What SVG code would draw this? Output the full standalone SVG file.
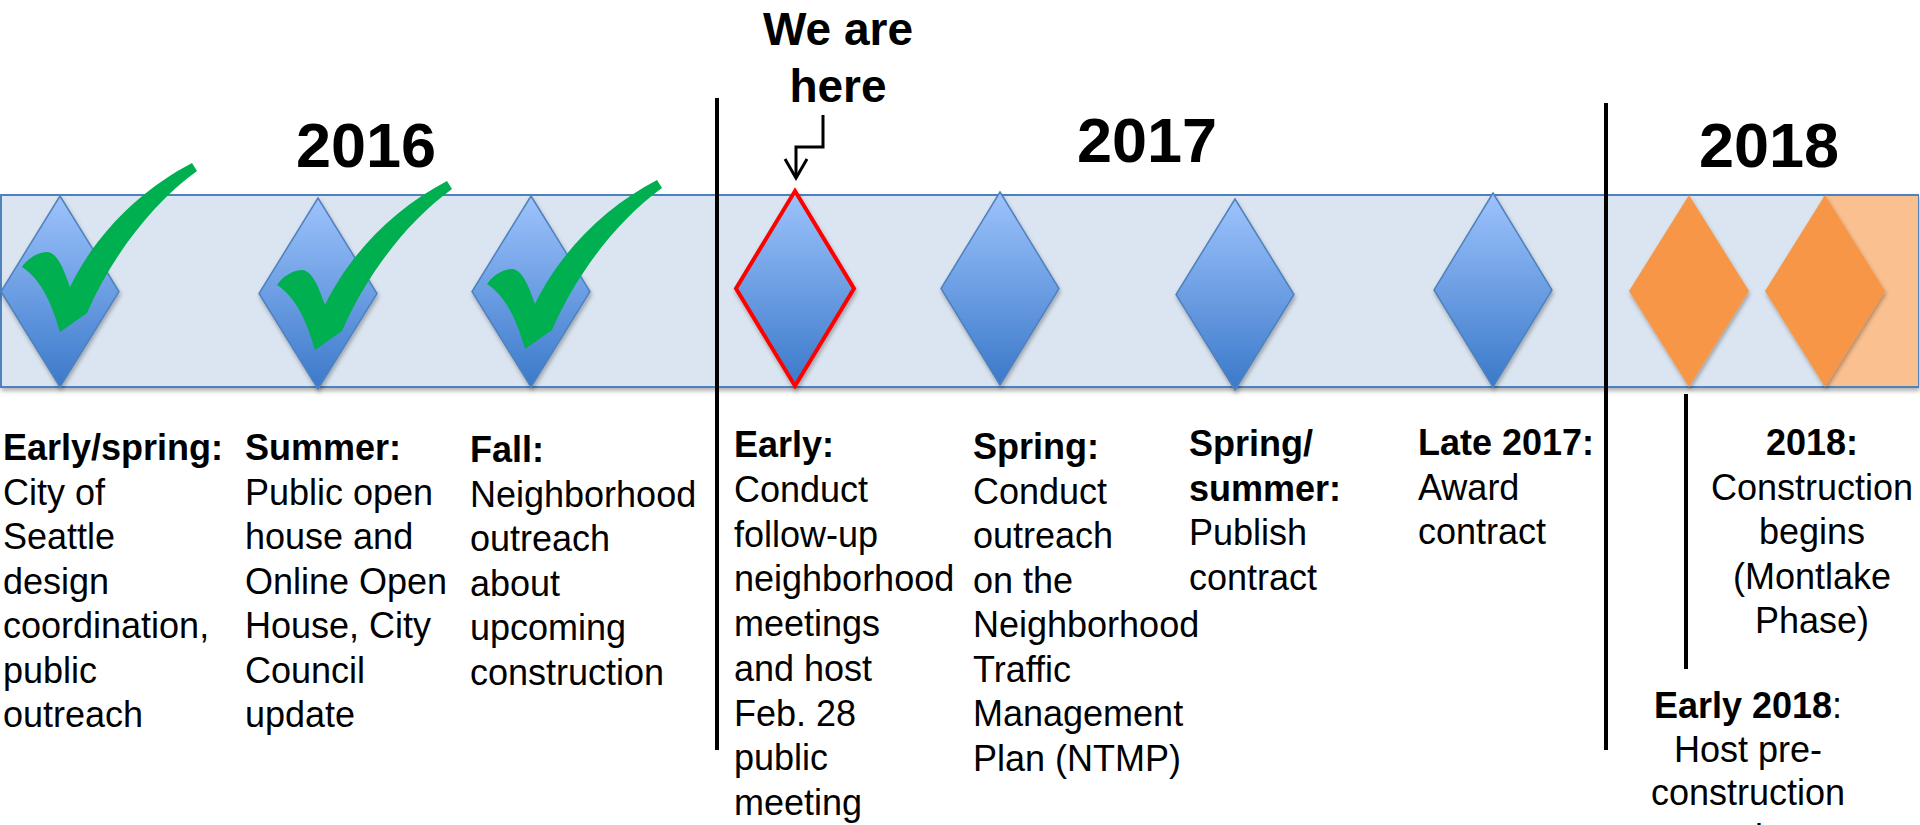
<svg xmlns="http://www.w3.org/2000/svg" width="1920" height="825" viewBox="0 0 1920 825">
<defs>
<linearGradient id="blueGrad" x1="0" y1="0" x2="0" y2="1">
<stop offset="0" stop-color="#9DC3FC"/>
<stop offset="1" stop-color="#3B79CA"/>
</linearGradient>
<filter id="shadow" x="-10%" y="-10%" width="130%" height="130%">
<feDropShadow dx="1" dy="3" stdDeviation="2" flood-color="#000" flood-opacity="0.3"/>
</filter>
<path id="check" d="M 22 267 C 28 258, 38 252, 48 252 C 58 254, 64 270, 70 287 C 95 235, 140 190, 192 163 L 197 171 C 150 205, 110 260, 87 313 L 60 332 C 52 305, 42 280, 22 267 Z"/>
<marker id="openArrow" markerWidth="24" markerHeight="26" refX="20" refY="12" orient="auto" markerUnits="userSpaceOnUse" viewBox="0 0 24 26">
<path d="M 1 1 L 20 12 L 1 23" fill="none" stroke="#000" stroke-width="3"/>
</marker>
</defs>
<style>
.band{fill:#DBE5F1;stroke:#4F81BD;stroke-width:2}
.bd{fill:url(#blueGrad);stroke:#4F81BD;stroke-width:1.5}
.od{fill:#F79646}
.chk{fill:#00B050}
.div{stroke:#000;stroke-width:4}
.t{font-family:"Liberation Sans",Arial,sans-serif;font-size:36px;fill:#000}
.b{font-weight:bold}
.yr{font-family:"Liberation Sans",Arial,sans-serif;font-size:63px;font-weight:bold;fill:#000}
.here{font-family:"Liberation Sans",Arial,sans-serif;font-size:46px;font-weight:bold;fill:#000}
</style>
<rect width="1920" height="825" fill="#fff"/>

<g id="band">
<rect class="band" x="1" y="195" width="1917" height="192" filter="url(#shadow)"/>
<rect x="1823" y="196" width="95" height="190" fill="#FAC090"/>
</g>

<g id="year-labels">
<text class="yr" x="366" y="167" text-anchor="middle">2016</text>
<text class="yr" x="1147" y="162" text-anchor="middle">2017</text>
<text class="yr" x="1769" y="167" text-anchor="middle">2018</text>
</g>

<g id="dividers">
<line class="div" x1="717" y1="98" x2="717" y2="750"/>
<line class="div" x1="1606" y1="103" x2="1606" y2="750"/>
<line class="div" x1="1686" y1="394" x2="1686" y2="669"/>
</g>

<g id="m1-early-spring-2016">
<polygon class="bd" points="60,196 119,291.5 60,387 1,291.5" filter="url(#shadow)"/>
<use href="#check" class="chk"/>
<text class="t" x="3" y="460"><tspan class="b">Early/spring:</tspan><tspan x="3" dy="44.5">City of</tspan><tspan x="3" dy="44.5">Seattle</tspan><tspan x="3" dy="44.5">design</tspan><tspan x="3" dy="44.5">coordination,</tspan><tspan x="3" dy="44.5">public</tspan><tspan x="3" dy="44.5">outreach</tspan></text>
</g>

<g id="m2-summer-2016">
<polygon class="bd" points="318,198 377,293.5 318,389 259,293.5" filter="url(#shadow)"/>
<use href="#check" class="chk" transform="translate(255,18)"/>
<text class="t" x="245" y="460"><tspan class="b">Summer:</tspan><tspan x="245" dy="44.5">Public open</tspan><tspan x="245" dy="44.5">house and</tspan><tspan x="245" dy="44.5">Online Open</tspan><tspan x="245" dy="44.5">House, City</tspan><tspan x="245" dy="44.5">Council</tspan><tspan x="245" dy="44.5">update</tspan></text>
</g>

<g id="m3-fall-2016">
<polygon class="bd" points="531,196 590,291.5 531,387 472,291.5" filter="url(#shadow)"/>
<use href="#check" class="chk" transform="translate(465,17)"/>
<text class="t" x="470" y="462"><tspan class="b">Fall:</tspan><tspan x="470" dy="44.5">Neighborhood</tspan><tspan x="470" dy="44.5">outreach</tspan><tspan x="470" dy="44.5">about</tspan><tspan x="470" dy="44.5">upcoming</tspan><tspan x="470" dy="44.5">construction</tspan></text>
</g>

<g id="m4-early-2017-current">
<polygon class="bd" points="795,191 854,288.5 795,386 736,288.5" style="stroke:#FF0000;stroke-width:4" filter="url(#shadow)"/>
<text class="here" x="838" y="45" text-anchor="middle">We are</text>
<text class="here" x="838" y="102" text-anchor="middle">here</text>
<text class="t" x="734" y="457"><tspan class="b">Early:</tspan><tspan x="734" dy="44.75">Conduct</tspan><tspan x="734" dy="44.75">follow-up</tspan><tspan x="734" dy="44.75">neighborhood</tspan><tspan x="734" dy="44.75">meetings</tspan><tspan x="734" dy="44.75">and host</tspan><tspan x="734" dy="44.75">Feb. 28</tspan><tspan x="734" dy="44.75">public</tspan><tspan x="734" dy="44.75">meeting</tspan></text>
</g>

<g id="m5-spring-2017">
<polygon class="bd" points="1000,192 1059,288.5 1000,385 941,288.5" filter="url(#shadow)"/>
<text class="t" x="973" y="459"><tspan class="b">Spring:</tspan><tspan x="973" dy="44.5">Conduct</tspan><tspan x="973" dy="44.5">outreach</tspan><tspan x="973" dy="44.5">on the</tspan><tspan x="973" dy="44.5">Neighborhood</tspan><tspan x="973" dy="44.5">Traffic</tspan><tspan x="973" dy="44.5">Management</tspan><tspan x="973" dy="44.5">Plan (NTMP)</tspan></text>
</g>

<g id="m6-spring-summer-2017">
<polygon class="bd" points="1235,199 1294,294.5 1235,390 1176,294.5" filter="url(#shadow)"/>
<text class="t" x="1189" y="456"><tspan class="b">Spring/</tspan><tspan class="b" x="1189" dy="44.5">summer:</tspan><tspan x="1189" dy="44.5">Publish</tspan><tspan x="1189" dy="44.5">contract</tspan></text>
</g>

<g id="m7-late-2017">
<polygon class="bd" points="1493,193 1552,290 1493,387 1434,290" filter="url(#shadow)"/>
<text class="t" x="1418" y="455"><tspan class="b">Late 2017:</tspan><tspan x="1418" dy="44.5">Award</tspan><tspan x="1418" dy="44.5">contract</tspan></text>
</g>

<g id="m8-early-2018">
<polygon class="od" points="1689,195 1749,291 1689,387 1629,291" filter="url(#shadow)"/>
<text class="t" x="1748" y="717.5" text-anchor="middle"><tspan class="b">Early 2018</tspan>:</text>
<text class="t" x="1748" y="762" text-anchor="middle">Host pre-</text>
<text class="t" x="1748" y="805" text-anchor="middle">construction</text>
<text class="t" x="1748" y="849.5" text-anchor="middle">meetings</text>
</g>

<g id="m9-2018-construction">
<polygon class="od" points="1825,195 1885,291 1825,387 1765,291" filter="url(#shadow)"/>
<text class="t" x="1812" y="455" text-anchor="middle"><tspan class="b">2018:</tspan><tspan x="1812" dy="44.5">Construction</tspan><tspan x="1812" dy="44.5">begins</tspan><tspan x="1812" dy="44.5">(Montlake</tspan><tspan x="1812" dy="44.5">Phase)</tspan></text>
</g>

<g id="connectors">
<polyline points="823,115 823,147 796,147 796,178" fill="none" stroke="#000" stroke-width="3" marker-end="url(#openArrow)"/>
</g>
</svg>
